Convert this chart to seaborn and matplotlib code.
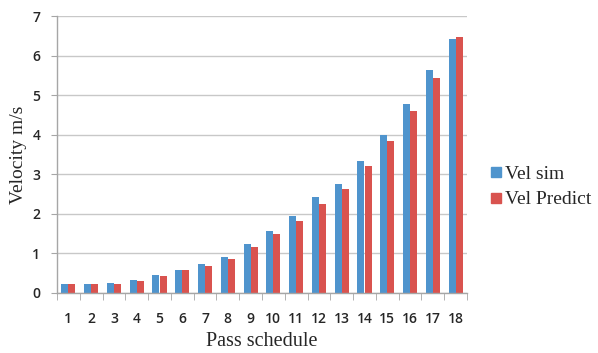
import matplotlib
matplotlib.use("Agg")
import matplotlib.pyplot as plt
import seaborn as sns
import pandas as pd
import numpy as np
from matplotlib.lines import Line2D

passes = [str(i) for i in range(1, 19)]
vel_sim = [0.23, 0.23, 0.26, 0.32, 0.46, 0.59, 0.74, 0.92, 1.25, 1.57,
           1.95, 2.42, 2.76, 3.34, 4.00, 4.77, 5.63, 6.43]
vel_pred = [0.23, 0.23, 0.23, 0.31, 0.42, 0.57, 0.69, 0.87, 1.15, 1.49,
            1.81, 2.25, 2.63, 3.22, 3.85, 4.60, 5.43, 6.46]
series = ["Vel sim", "Vel Predict"]
colors = ["#4f94cd", "#d9534f"]

df = pd.DataFrame({
    "Pass": passes * 2,
    "Velocity": vel_sim + vel_pred,
    "Series": [series[0]] * len(passes) + [series[1]] * len(passes),
})

sns.set_style("white")
fig = plt.figure(figsize=(5.98, 3.53), dpi=100)
ax = fig.add_axes([57 / 598, 1 - 293 / 353, (467 - 57) / 598, (293 - 16) / 353])

sns.barplot(data=df, x="Pass", y="Velocity", hue="Series", palette=colors,
            width=0.62, gap=0, saturation=1, ax=ax, legend=False, linewidth=0)

ax.set_ylim(0, 7)
ax.set_xlim(-0.5, len(passes) - 0.5)
ax.set_yticks(range(0, 8))
ax.yaxis.grid(True, color="#c8c8c8", linewidth=1)
ax.set_axisbelow(True)
for s in ["top", "right"]:
    ax.spines[s].set_visible(False)
for s in ["left", "bottom"]:
    ax.spines[s].set_color("#a6a6a6")
    ax.spines[s].set_linewidth(1)

ax.set_xticks(np.arange(-0.5, len(passes)), minor=True)
ax.tick_params(axis="x", which="major", length=0, pad=14, labelsize=10)
ax.tick_params(axis="x", which="minor", length=5, color="#a6a6a6", direction="out", bottom=True)
ax.tick_params(axis="y", which="major", length=4, color="#a6a6a6", direction="out", left=True,
               labelsize=10, pad=8)
for lbl in ax.get_xticklabels() + ax.get_yticklabels():
    lbl.set_fontfamily("Open Sans")
    lbl.set_fontweight("semibold")

ax.set_xlabel("Pass schedule", fontfamily="Liberation Serif", fontsize=14.5, labelpad=4)
ax.set_ylabel("Velocity m/s", fontfamily="Liberation Serif", fontsize=14, labelpad=4)

handles = [Line2D([], [], marker="s", linestyle="none", markersize=7,
                  markerfacecolor=c, markeredgecolor=c) for c in colors]
fig.legend(handles, series, loc="center left", bbox_to_anchor=(478 / 598, 1 - 187 / 353),
           frameon=False, prop={"family": "Liberation Serif", "size": 14},
           handletextpad=0.0, labelspacing=0.4, borderaxespad=0, handlelength=1.0)

fig.savefig("out.png", dpi=100)
